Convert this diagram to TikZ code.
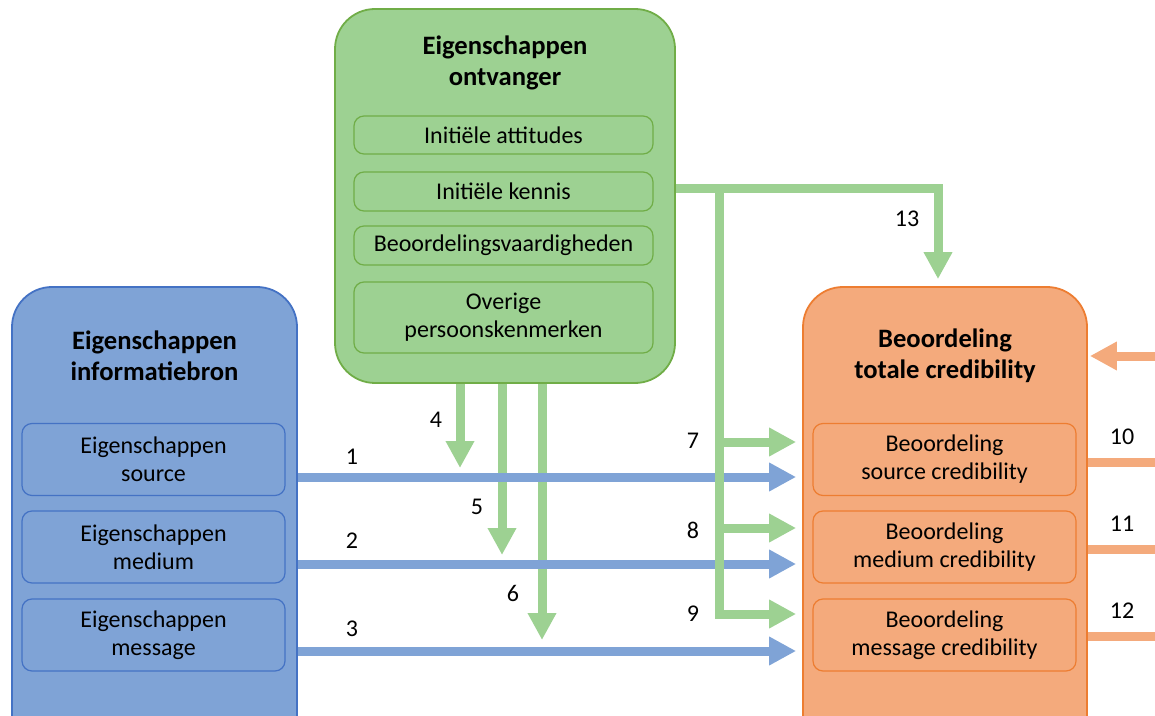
\documentclass[tikz,border=0pt]{standalone}
\usepackage{fontspec}
\setmainfont{Carlito}
\usetikzlibrary{arrows.meta}
\definecolor{grfill}{RGB}{157,209,146}
\definecolor{grline}{RGB}{112,173,71}
\definecolor{blfill}{RGB}{127,163,214}
\definecolor{blline}{RGB}{68,114,196}
\definecolor{orfill}{RGB}{244,170,124}
\definecolor{orline}{RGB}{237,125,49}

\begin{document}
\begin{tikzpicture}[x=0.5pt,y=-0.5pt,
  outer/.style={draw, line width=0.9pt, rounded corners=20pt, inner sep=0pt},
  inbox/.style={draw, line width=0.6pt, rounded corners=5pt, inner sep=0pt,
    minimum width=131.5pt, minimum height=36pt, align=center,
    font=\fontsize{12}{14}\selectfont},
  heading/.style={align=center, font=\bfseries\fontsize{13.3}{15.3}\selectfont},
  num/.style={font=\fontsize{12}{14}\selectfont},
  flow/.style={line width=4.5pt, -{Triangle[length=13.5pt,width=13.5pt]}},
  bar/.style={line width=4.5pt}]

\clip (0,0) rectangle (1155,716);

% receiver properties (green)
\node[outer, fill=grfill, draw=grline, minimum width=170pt, minimum height=187pt] (go) at (505,196) {};
\node[heading] (gt) at (505,63) {Eigenschappen\\ontvanger};
\node[inbox, fill=grfill, draw=grline, minimum width=149.5pt, minimum height=19pt] (att) at (503.5,135) {Initiële attitudes};
\node[inbox, fill=grfill, draw=grline, minimum width=149.5pt, minimum height=19.5pt] (ken) at (503.5,191.5) {Initiële kennis};
\node[inbox, fill=grfill, draw=grline, minimum width=149.5pt, minimum height=19.5pt] (vaa) at (503.5,245.5) {Beoordelingsvaardigheden};
\node[inbox, fill=grfill, draw=grline, minimum width=149.5pt, minimum height=35.5pt] (ovk) at (503.5,317.5) {Overige\\persoonskenmerken};

% information source properties (blue)
\node[outer, fill=blfill, draw=blline, minimum width=142.5pt, minimum height=246.5pt] (bo) at (154.5,533.5) {};
\node[heading] (bt) at (154.5,356) {Eigenschappen\\informatiebron};
\node[inbox, fill=blfill, draw=blline] (bsrc) at (153.5,459.5) {Eigenschappen\\source};
\node[inbox, fill=blfill, draw=blline] (bmed) at (153.5,547) {Eigenschappen\\medium};
\node[inbox, fill=blfill, draw=blline] (bmsg) at (153.5,635) {Eigenschappen\\message};

% credibility judgement (orange)
\node[outer, fill=orfill, draw=orline, minimum width=142pt, minimum height=246.5pt] (oo) at (945,533.5) {};
\node[heading] (ot) at (945,356) {Beoordeling\\totale credibility};
\node[inbox, fill=orfill, draw=orline] (osrc) at (944.5,459.5) {Beoordeling\\source credibility};
\node[inbox, fill=orfill, draw=orline] (omed) at (944.5,547) {Beoordeling\\medium credibility};
\node[inbox, fill=orfill, draw=orline] (omsg) at (944.5,635) {Beoordeling\\message credibility};

% row and column helpers
\coordinate (r1) at (0,477);
\coordinate (r2) at (0,564);
\coordinate (r3) at (0,651);
\coordinate (k) at (0,189);
\coordinate (g7) at (0,442);
\coordinate (g8) at (0,528);
\coordinate (g9) at (0,614);
\coordinate (c13) at (938,0);
\coordinate (tip4) at (460,468);
\coordinate (tip5) at (502,555);
\coordinate (tip6) at (542,640);
\coordinate (split) at (719,189);
\coordinate (out0) at (1170,356);
\coordinate (out1) at (1170,462);
\coordinate (out2) at (1170,549);
\coordinate (out3) at (1170,636);

% green flows 4-6 (run beneath the blue flows)
\draw[flow, grfill] (go.south -| tip4) -- (tip4);
\draw[flow, grfill] (go.south -| tip5) -- (tip5);
\draw[flow, grfill] (go.south -| tip6) -- (tip6);

% blue flows 1-3
\draw[flow, blfill] (bo.east |- r1) -- ([xshift=-3pt]oo.west |- r1);
\draw[flow, blfill] (bo.east |- r2) -- ([xshift=-3pt]oo.west |- r2);
\draw[flow, blfill] (bo.east |- r3) -- ([xshift=-3pt]oo.west |- r3);

% green flows 7-9 and 13 (run over the blue flows)
\draw[flow, grfill] (go.east |- k) -| ([yshift=3.5pt]oo.north -| c13);
\draw[flow, grfill] (split) |- ([xshift=-3pt]oo.west |- g9);
\draw[flow, grfill] (split |- g7) -- ([xshift=-3pt]oo.west |- g7);
\draw[flow, grfill] (split |- g8) -- ([xshift=-3pt]oo.west |- g8);

% orange flows 10-12 and incoming arrow
\draw[flow, orfill] (out0) -- ([xshift=1pt]oo.east |- out0);
\draw[bar, orfill] (oo.east |- out1) -- (out1);
\draw[bar, orfill] (oo.east |- out2) -- (out2);
\draw[bar, orfill] (oo.east |- out3) -- (out3);

% flow numbers
\node[num] (n1) at (352,457) {1};
\node[num] (n2) at (352,541) {2};
\node[num] (n3) at (352,629) {3};
\node[num] (n4) at (436,420) {4};
\node[num] (n5) at (477,507) {5};
\node[num] (n6) at (513,593) {6};
\node[num] (n7) at (693,441) {7};
\node[num] (n8) at (693,530) {8};
\node[num] (n9) at (693,614) {9};
\node[num] (n10) at (1122,437) {10};
\node[num] (n11) at (1122,524) {11};
\node[num] (n12) at (1122,611) {12};
\node[num] (n13) at (907,219) {13};
\end{tikzpicture}
\end{document}
